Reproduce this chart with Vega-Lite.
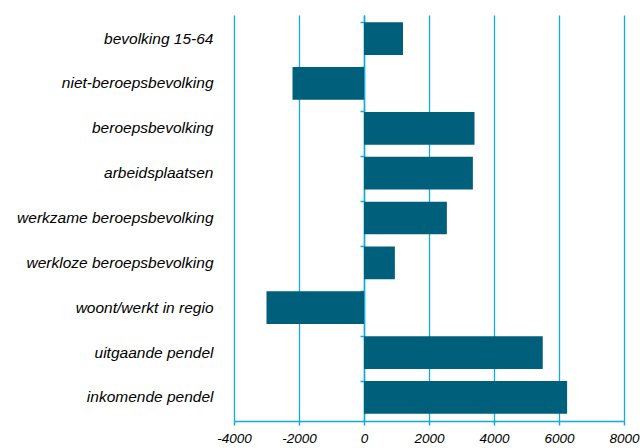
{
  "$schema": "https://vega.github.io/schema/vega-lite/v6.json",
  "autosize": {"type": "none"},
  "padding": {"left": 234, "top": 15, "right": 16, "bottom": 27},
  "width": 390,
  "height": 406,
  "data": {"values": [
    {"cat": "bevolking 15-64", "v": 1200},
    {"cat": "niet-beroepsbevolking", "v": -2200},
    {"cat": "beroepsbevolking", "v": 3400},
    {"cat": "arbeidsplaatsen", "v": 3350},
    {"cat": "werkzame beroepsbevolking", "v": 2550},
    {"cat": "werkloze beroepsbevolking", "v": 950},
    {"cat": "woont/werkt in regio", "v": -3000},
    {"cat": "uitgaande pendel", "v": 5500},
    {"cat": "inkomende pendel", "v": 6250}
  ]},
  "config": {
    "view": {"stroke": null},
    "font": "Liberation Sans"
  },
  "layer": [
    {
      "mark": {"type": "bar", "color": "#005f7a"},
      "encoding": {
        "y": {
          "field": "cat", "type": "nominal", "sort": null,
          "scale": {"paddingInner": 0.27, "paddingOuter": 0.16},
          "axis": {"title": null, "orient": "left", "domain": false, "ticks": false, "labelPadding": 21,
                   "labelLimit": 400,
                   "labelFont": "Liberation Sans", "labelFontStyle": "italic", "labelFontSize": 15.5,
                   "labelColor": "#000000", "grid": false}
        },
        "x": {
          "field": "v", "type": "quantitative",
          "scale": {"domain": [-4000, 8000], "nice": false},
          "axis": {"title": null, "values": [-4000, -2000, 0, 2000, 4000, 6000, 8000],
                   "labelExpr": "datum.value + ''", "labelFontStyle": "italic", "labelFontSize": 13.5,
                   "labelFlush": false, "labelOverlap": false,
                   "labelColor": "#000000", "labelPadding": 6,
                   "grid": true, "gridColor": "#12a9dc", "gridOpacity": 1, "gridWidth": 1.3,
                   "domainColor": "#12a9dc", "domainWidth": 1.5, "tickColor": "#12a9dc", "tickSize": 4, "tickWidth": 1.5}
        }
      }
    },
    {
      "mark": {"type": "point", "opacity": 0},
      "encoding": {
        "y": {
          "field": "cat", "type": "nominal", "sort": null,
          "axis": {"title": null, "orient": "left", "labels": false, "offset": -130, "domain": true, "domainColor": "#12a9dc",
                   "domainWidth": 1.5, "ticks": true, "tickColor": "#12a9dc", "tickSize": 4, "tickWidth": 1.5,
                   "bandPosition": 0, "grid": false}
        },
        "x": {"datum": 0, "type": "quantitative"}
      }
    }
  ],
  "resolve": {"axis": {"y": "independent"}}
}
